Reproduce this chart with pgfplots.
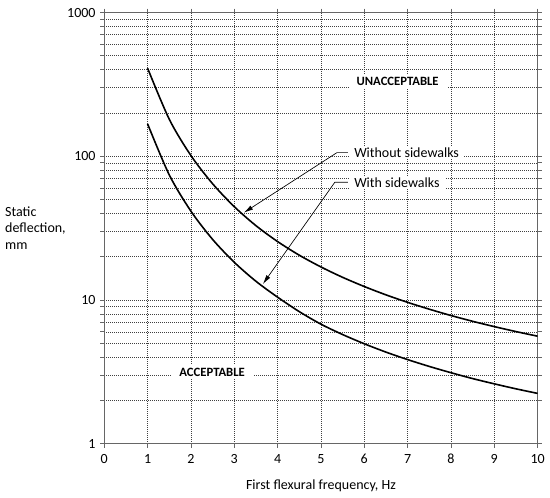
\documentclass[border=0pt]{standalone}
\usepackage{pgfplots}
\pgfplotsset{compat=1.18}
\usepackage{fontspec}
\setmainfont{Carlito}
\usetikzlibrary{arrows.meta}

\pgfplotstableread{
x y
1 410
1.5 180.9
2 101.1
2.5 64.4
3 44.6
3.5 32.9
4 25.5
4.5 20.5
5 16.98
5.5 14.38
6 12.41
6.5 10.86
7 9.63
7.5 8.63
8 7.80
8.5 7.11
9 6.53
9.5 6.03
10 5.6
}\without

\pgfplotstableread{
x y
1 168
1.5 74.2
2 41.5
2.5 26.4
3 18.3
3.5 13.5
4 10.46
4.5 8.30
5 6.79
5.5 5.75
6 4.96
6.5 4.34
7 3.85
7.5 3.45
8 3.12
8.5 2.84
9 2.61
9.5 2.41
10 2.24
}\withside

\begin{document}
\begin{tikzpicture}[font=\fontsize{10.5}{12.6}\selectfont]
\useasboundingbox (-78.2pt,-40.7pt) rectangle (334.3pt,332.8pt);
\begin{axis}[
  at={(0,0)}, anchor=south west,
  scale only axis, width=325pt, height=323.4pt,
  ymode=log, xmin=0, xmax=10, ymin=1, ymax=1000,
  xtick={0,1,2,3,4,5,6,7,8,9,10},
  xticklabels={0,1,2,3,4,5,6,7,8,9,10},
  ytick={1,10,100,1000},
  yticklabels={1,10,100,1000},
  /pgf/number format/assume math mode=true,
  xmajorgrids, ymajorgrids, yminorgrids,
  major grid style={black!75, line width=0.5pt, dash pattern=on 0.7pt off 0.8pt},
  minor grid style={black!75, line width=0.5pt, dash pattern=on 0.7pt off 0.8pt},
  axis line style={black!60, line width=0.9pt},
  tick align=outside, major tick length=3pt, minor tick length=3pt,
  tick style={black!60, line width=0.6pt},
  ticklabel style={font=\fontsize{10.5}{12.6}\selectfont},
  xticklabel style={yshift=-1.5pt},
  xlabel={First flexural frequency, Hz},
  xlabel style={at={(axis description cs:0.5,0)}, anchor=center, yshift=-31.7pt},
]
\addplot[black, line width=1.2pt, smooth] table[x=x,y=y] {\without};
\addplot[black, line width=1.2pt, smooth] table[x=x,y=y] {\withside};

\draw[black, line width=0.5pt, -{Latex[length=7pt,width=3.5pt]}]
  (axis cs:5.62,106) -- (axis cs:5.37,106) -- (axis cs:3.22,40.5);
\draw[black, line width=0.5pt, -{Latex[length=7pt,width=3.5pt]}]
  (axis cs:5.62,65.9) -- (axis cs:5.32,65.9) -- (axis cs:3.66,12.9);

\node[anchor=west, fill=white, inner xsep=4pt, inner ysep=1pt] at (axis cs:5.64,106) {Without sidewalks};
\node[anchor=west, fill=white, inner xsep=4pt, inner ysep=1pt] at (axis cs:5.64,65.9) {With sidewalks};
\node[fill=white, inner xsep=6pt, inner ysep=2pt, font=\bfseries\fontsize{9.5}{11}\selectfont] at (axis cs:6.77,334) {UNACCEPTABLE};
\node[fill=white, inner xsep=6pt, inner ysep=2pt, font=\bfseries\fontsize{9.5}{11}\selectfont] at (axis cs:2.49,3.14) {ACCEPTABLE};
\end{axis}
\node[anchor=west, align=left, inner sep=0pt] at (-74.5pt,161.8pt) {Static\\deflection,\\mm};
\end{tikzpicture}
\end{document}
